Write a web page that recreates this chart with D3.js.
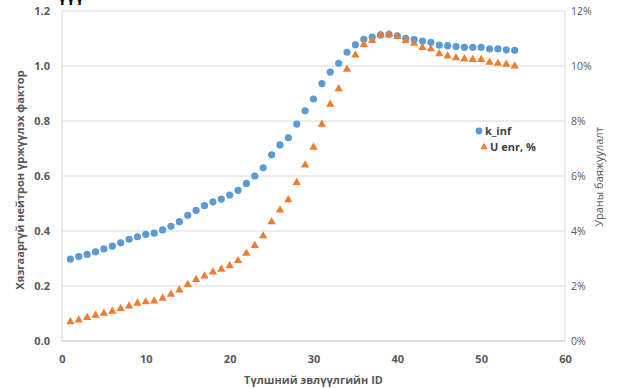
<!DOCTYPE html>
<html>
<head>
<meta charset="utf-8">
<script src="https://cdn.jsdelivr.net/npm/d3@7"></script>
<style>
  body { margin: 0; background: #fff; }
  svg text { font-family: "Open Sans", "Liberation Sans", sans-serif; }
</style>
</head>
<body>
<div id="chart"></div>
<script>
// chart data
var ids = d3.range(1, 55)
var kInf = [0.298,0.307,0.315,0.324,0.335,0.345,0.357,0.370,0.379,0.388,
            0.392,0.404,0.417,0.434,0.457,0.475,0.492,0.506,0.516,0.531,
            0.548,0.573,0.600,0.630,0.677,0.713,0.739,0.789,0.837,0.880,
            0.936,0.978,1.010,1.050,1.077,1.097,1.105,1.113,1.115,1.110,
            1.101,1.096,1.091,1.086,1.076,1.074,1.071,1.068,1.068,1.068,
            1.062,1.062,1.059,1.057]
var uEnr = [0.70,0.76,0.85,0.93,1.01,1.08,1.18,1.27,1.37,1.42,
            1.45,1.55,1.70,1.85,2.05,2.23,2.36,2.51,2.61,2.73,
            2.92,3.19,3.47,3.82,4.33,4.76,5.13,5.76,6.40,7.04,
            7.88,8.61,9.17,9.88,10.40,10.78,10.92,11.13,11.15,11.07,
            10.92,10.82,10.67,10.62,10.44,10.36,10.30,10.25,10.23,10.23,
            10.13,10.10,10.06,10.00]
var xTicks = [0,10,20,30,40,50,60]
var leftTicks = [0,0.2,0.4,0.6,0.8,1.0,1.2]
var rightTicks = [0,2,4,6,8,10,12]
var seriesNames = ["k_inf", "U enr, %"]

var width = 617, height = 388
// plot box (note: "top" is taken by window.top, so prefix everything)
var plotLeft = 62, plotRight = 565, plotTop = 11, plotBottom = 341
var blue = "#5b9bd5", orange = "#ed7d31"
var labelColor = "#595959"

var svg = d3.select("#chart").append("svg")
  .attr("width", width)
  .attr("height", height)

var x = d3.scaleLinear().domain([0, 60]).range([plotLeft, plotRight])
var yL = d3.scaleLinear().domain([0, 1.2]).range([plotBottom, plotTop])
var yR = d3.scaleLinear().domain([0, 12]).range([plotBottom, plotTop])

// clipped fragment of the caption above the chart
svg.append("text")
  .attr("x", 58).attr("y", 2)
  .style("font-size", "15px").style("font-weight", "bold")
  .style("fill", "#000")
  .text("үүү")

// gridlines
svg.append("g").selectAll("line")
  .data(leftTicks.slice(1))
  .join("line")
  .attr("x1", plotLeft).attr("x2", plotRight)
  .attr("y1", d => yL(d)).attr("y2", d => yL(d))
  .style("stroke", "#d9d9d9").style("stroke-width", 1)

// plot frame sides + bottom axis line
svg.append("line").attr("x1", plotLeft).attr("x2", plotLeft).attr("y1", plotTop).attr("y2", plotBottom)
  .style("stroke", "#d9d9d9")
svg.append("line").attr("x1", plotRight).attr("x2", plotRight).attr("y1", plotTop).attr("y2", plotBottom)
  .style("stroke", "#d9d9d9")
svg.append("line").attr("x1", plotLeft).attr("x2", plotRight).attr("y1", plotBottom).attr("y2", plotBottom)
  .style("stroke", "#bfbfbf")

// left axis labels
var leftAxis = svg.append("g")
  .attr("transform", `translate(${plotLeft},0)`)
  .call(d3.axisLeft(yL).tickValues(leftTicks).tickFormat(d3.format(".1f")).tickSize(0).tickPadding(12))
leftAxis.select(".domain").remove()
leftAxis.selectAll("text")
  .style("font-size", "11px").style("font-weight", "bold").style("fill", labelColor)
  .style("font-family", "'Open Sans', sans-serif")

// right axis labels
var rightAxis = svg.append("g")
  .attr("transform", `translate(${plotRight},0)`)
  .call(d3.axisRight(yR).tickValues(rightTicks).tickFormat(d => d + "%").tickSize(0).tickPadding(6))
rightAxis.select(".domain").remove()
rightAxis.selectAll("text")
  .style("font-size", "10.5px").style("fill", labelColor)
  .style("font-family", "'Open Sans', sans-serif")

// x axis labels
var xAxis = svg.append("g")
  .attr("transform", `translate(0,${plotBottom})`)
  .call(d3.axisBottom(x).tickValues(xTicks).tickSize(0).tickPadding(14))
xAxis.select(".domain").remove()
xAxis.selectAll("text")
  .style("font-size", "11px").style("font-weight", "bold").style("fill", labelColor)
  .style("font-family", "'Open Sans', sans-serif")

// axis titles
svg.append("text")
  .attr("x", (plotLeft + plotRight) / 2).attr("y", 384)
  .attr("text-anchor", "middle")
  .style("font-size", "11px").style("font-weight", "bold").style("fill", labelColor)
  .text("Түлшний эвлүүлгийн ID")

svg.append("text")
  .attr("transform", "translate(24,180) rotate(-90)")
  .attr("text-anchor", "middle")
  .style("font-size", "11px").style("font-weight", "bold").style("fill", labelColor)
  .text("Хязгааргүй нейтрон үржүүлэх фактор")

svg.append("text")
  .attr("transform", "translate(603,177) rotate(-90)")
  .attr("text-anchor", "middle")
  .style("font-size", "11px").style("fill", labelColor)
  .text("Ураны баяжуулалт")

var triangle = d3.symbol().type(d3.symbolTriangle).size(30)

// series: k_inf (circles, left axis)
svg.append("g").selectAll("circle")
  .data(ids)
  .join("circle")
  .attr("cx", (d, i) => x(d))
  .attr("cy", (d, i) => yL(kInf[i]))
  .attr("r", 3.6)
  .style("fill", blue)

// series: U enr (triangles, right axis)
svg.append("g").selectAll("path")
  .data(ids)
  .join("path")
  .attr("d", triangle)
  .attr("transform", (d, i) => `translate(${x(d)},${yR(uEnr[i])})`)
  .style("fill", orange)

// legend
var legend = svg.append("g")
legend.append("circle").attr("cx", 479).attr("cy", 131).attr("r", 3.4).style("fill", blue)
legend.append("text").attr("x", 485).attr("y", 135)
  .style("font-size", "11px").style("font-weight", "bold").style("fill", "#404040")
  .text(seriesNames[0])
legend.append("path").attr("d", d3.symbol().type(d3.symbolTriangle).size(24))
  .attr("transform", "translate(484,147)").style("fill", orange)
legend.append("text").attr("x", 490).attr("y", 151)
  .style("font-size", "11px").style("font-weight", "bold").style("fill", "#404040")
  .text(seriesNames[1])
</script>
</body>
</html>
